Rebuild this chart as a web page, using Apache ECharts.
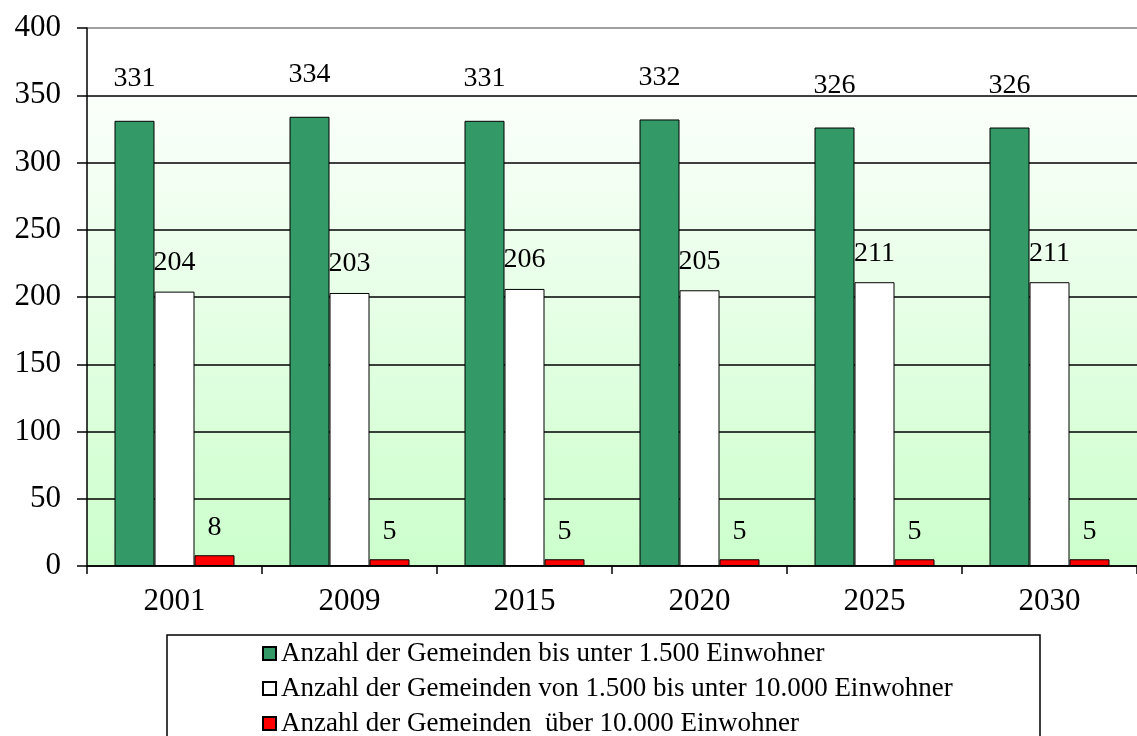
<!DOCTYPE html>
<html>
<head>
<meta charset="utf-8">
<script src="https://cdn.jsdelivr.net/npm/echarts@6/dist/echarts.min.js"></script>
<style>
html,body{margin:0;padding:0;background:#fff;}
#chart{width:1137px;height:736px;}
</style>
</head>
<body>
<div id="chart"></div>
<script>
const years = ['2001', '2009', '2015', '2020', '2025', '2030'];
const seriesNames = [
  'Anzahl der Gemeinden bis unter 1.500 Einwohner',
  'Anzahl der Gemeinden von 1.500 bis unter 10.000 Einwohner',
  'Anzahl der Gemeinden  über 10.000 Einwohner'
];
const small = [331, 334, 331, 332, 326, 326];
const medium = [204, 203, 206, 205, 211, 211];
const large = [8, 5, 5, 5, 5, 5];
const yTicks = { min: 0, max: 400, interval: 50 };

const FONT = "'Liberation Serif', 'Times New Roman', serif";
const chart = echarts.init(document.getElementById('chart'), null, { renderer: 'canvas' });

function barSeries(name, data, color, dist) {
  return {
    name: name,
    type: 'bar',
    data: data,
    barWidth: 40,
    barGap: '0%',
    itemStyle: { color: color, borderColor: '#000', borderWidth: 1 },
    label: {
      show: true, position: 'top', distance: dist,
      color: '#000', fontFamily: FONT, fontSize: 28
    },
    emphasis: { disabled: true }
  };
}

function legendRow(name, top) {
  return {
    orient: 'horizontal',
    left: 262, top: top,
    padding: 0,
    itemWidth: 13, itemHeight: 13,
    icon: 'rect',
    selectedMode: false,
    textStyle: { color: '#000', fontFamily: FONT, fontSize: 27, lineHeight: 27, padding: [0, 0, 0, 0] },
    data: [name]
  };
}

chart.setOption({
  animation: false,
  backgroundColor: '#fff',
  textStyle: { fontFamily: FONT },
  grid: {
    left: 87, right: -14, top: 28, bottom: 170,
    show: true, borderWidth: 0,
    backgroundColor: {
      type: 'linear', x: 0, y: 0, x2: 0, y2: 1,
      colorStops: [
        { offset: 0, color: '#ffffff' },
        { offset: 0.124, color: '#ffffff' },
        { offset: 0.126, color: '#fbfffb' },
        { offset: 1, color: '#ccffcc' }
      ]
    }
  },
  xAxis: {
    type: 'category',
    data: years,
    axisLine: { lineStyle: { color: '#000', width: 1.5 } },
    axisTick: { show: true, length: 8, lineStyle: { color: '#000', width: 1.5 } },
    axisLabel: { color: '#000', fontFamily: FONT, fontSize: 31, margin: 20 }
  },
  yAxis: {
    type: 'value',
    min: yTicks.min, max: yTicks.max, interval: yTicks.interval,
    axisLine: { show: true, lineStyle: { color: '#000', width: 1.5 } },
    axisTick: { show: true, length: 10, lineStyle: { color: '#000', width: 1.5 } },
    axisLabel: { color: '#000', fontFamily: FONT, fontSize: 31, margin: 26 },
    splitLine: {
      show: true,
      lineStyle: {
        color: ['#000', '#000', '#000', '#000', '#000', '#000', '#000', '#000', '#808080'],
        width: 1.5
      }
    }
  },
  legend: [
    legendRow(seriesNames[0], 640),
    legendRow(seriesNames[1], 675),
    legendRow(seriesNames[2], 710)
  ],
  graphic: [{
    type: 'rect',
    shape: { x: 167, y: 635, width: 873, height: 120 },
    style: { fill: 'none', stroke: '#000', lineWidth: 1.5 },
    z: 0
  }],
  series: [
    barSeries(seriesNames[0], small, '#339966', 28),
    barSeries(seriesNames[1], medium, '#ffffff', 15),
    barSeries(seriesNames[2], large, '#ff0000', 14)
  ]
});
</script>
</body>
</html>
